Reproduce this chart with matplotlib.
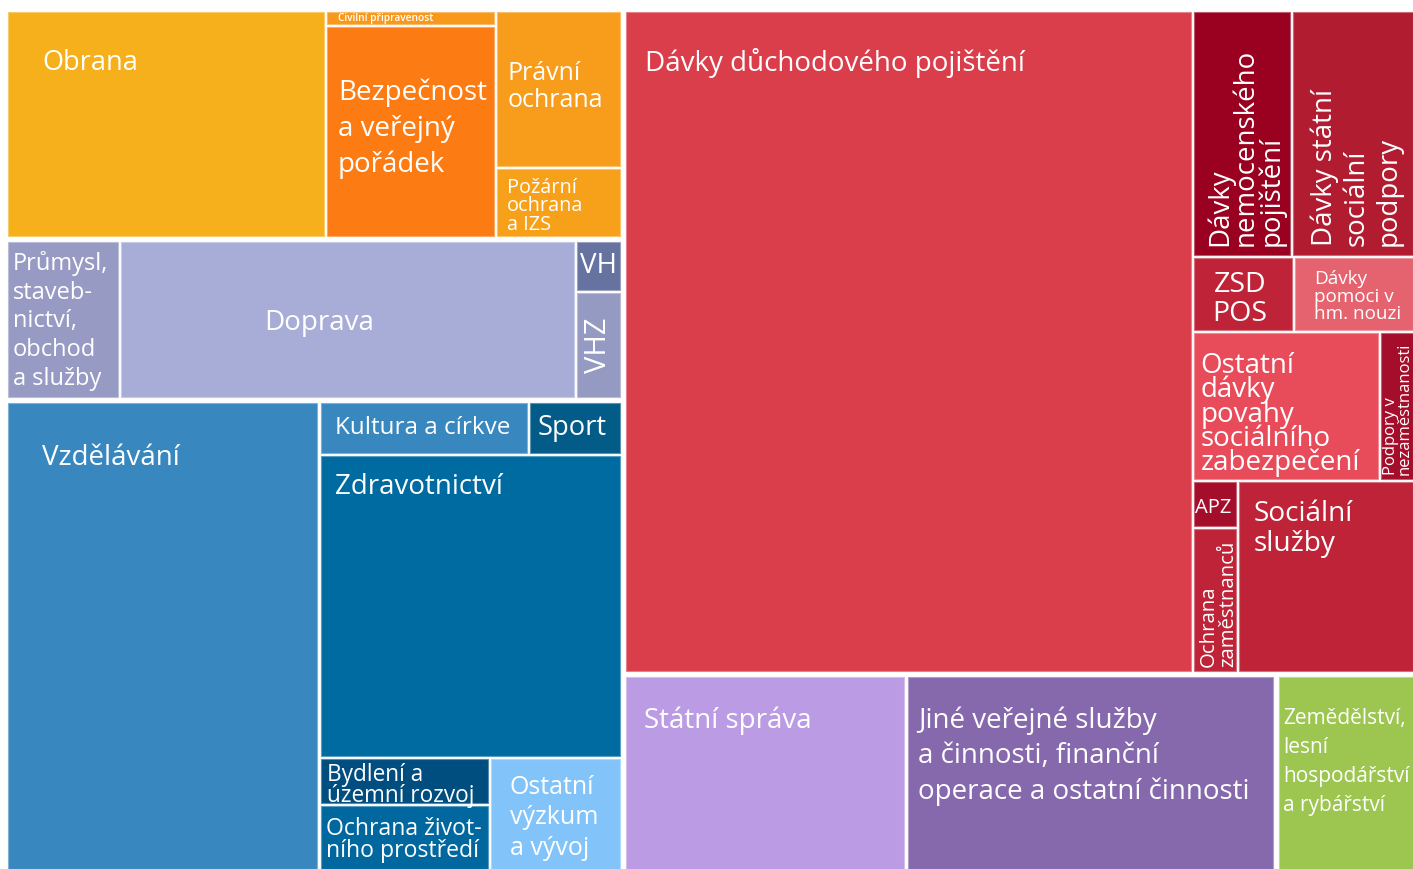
import matplotlib
matplotlib.use('Agg')
import matplotlib.pyplot as plt
from matplotlib.patches import Rectangle
import matplotlib.colors as mcolors

# ---------------- data (estimated expenditure, bn CZK) ----------------
keys = ['obrana', 'civil', 'bezp', 'pravni', 'pozarni',
        'prumysl', 'doprava', 'vh', 'vhz',
        'vzdel', 'kultura', 'sport', 'zdrav', 'bydleni', 'ozp', 'vyzkum',
        'duchody', 'nemoc', 'ssp', 'zsd', 'hn', 'ostdavky', 'nezam', 'apz', 'ochzam', 'socsluz',
        'statspr', 'jine', 'zemed']
labels = ['Obrana', 'Civilní připravenost', 'Bezpečnost\na veřejný\npořádek', 'Právní\nochrana',
          'Požární\nochrana\na IZS',
          'Průmysl,\nstaveb-\nnictví,\nobchod\na služby', 'Doprava', 'VH', 'VHZ',
          'Vzdělávání', 'Kultura a církve', 'Sport', 'Zdravotnictví', 'Bydlení a\núzemní rozvoj',
          'Ochrana život-\nního prostředí', 'Ostatní\nvýzkum\na vývoj',
          'Dávky důchodového pojištění', 'Dávky\nnemocenského\npojištění', 'Dávky státní\nsociální\npodpory',
          'ZSD\nPOS', 'Dávky\npomoci v\nhm. nouzi', 'Ostatní\ndávky\npovahy\nsociálního\nzabezpečení',
          'Podpory v\nnezaměstnanosti', 'APZ', 'Ochrana\nzaměstnanců', 'Sociální\nslužby',
          'Státní správa', 'Jiné veřejné služby\na činnosti, finanční\noperace a ostatní činnosti',
          'Zemědělství,\nlesní\nhospodářství\na rybářství']
values = [87.0, 2.9, 43.7, 23.7, 10.5,
          21.8, 89.0, 2.8, 5.9,
          176.1, 13.0, 5.7, 111.3, 9.5, 13.6, 17.9,
          452.6, 29.3, 36.2, 9.2, 11.0, 33.7, 6.0, 2.45, 7.7, 40.95,
          66.2, 87.0, 32.2]
colors = ['#F6B01B', '#F8991C', '#FC7B12', '#F89C1C', '#F7A11B',
          '#979BC3', '#A8ADD8', '#6673A1', '#959AC2',
          '#3888BF', '#3888BF', '#035B87', '#006BA1', '#004D7F', '#00689F', '#82C4FA',
          '#DA3E4B', '#9A001F', '#B21C31', '#BE2338', '#E5626F', '#E84C5B', '#A50E2A', '#A50E2A',
          '#BE2338', '#BE2338',
          '#BB9BE4', '#8668AD', '#9CC650']

val = dict(zip(keys, values))
lab = dict(zip(keys, labels))
col = dict(zip(keys, colors))

# ---------------- layout structure (split direction, children, gap px) ----------------
tree = ('h', [
    ('v', [
        ('h', ['obrana', ('v', ['civil', 'bezp'], 3), ('v', ['pravni', 'pozarni'], 3)], 3),
        ('h', ['prumysl', 'doprava', ('v', ['vh', 'vhz'], 3)], 3),
        ('h', ['vzdel', ('v', [('h', ['kultura', 'sport'], 3), 'zdrav',
                               ('h', [('v', ['bydleni', 'ozp'], 3), 'vyzkum'], 3)], 3)], 4),
    ], 6),
    ('v', [
        ('h', ['duchody', ('v', [('h', ['nemoc', 'ssp'], 3), ('h', ['zsd', 'hn'], 3),
                                 ('h', ['ostdavky', 'nezam'], 3),
                                 ('h', [('v', ['apz', 'ochzam'], 3), 'socsluz'], 3)], 3)], 3),
        ('h', [('h', ['statspr', 'jine'], 4), 'zemed'], 6),
    ], 6),
], 6)


def total(node):
    if isinstance(node, str):
        return val[node]
    return sum(total(c) for c in node[1])


def layout(node, x0, y0, x1, y1, out):
    if isinstance(node, str):
        out[node] = (x0, y0, x1, y1)
        return
    d, children, gap = node
    tot = total(node)
    length = (x1 - x0) if d == 'h' else (y1 - y0)
    pos = x0 if d == 'h' else y0
    n = len(children)
    for i, c in enumerate(children):
        seg = length * total(c) / tot
        a, b = pos, pos + seg
        pos = b
        a2 = a + (gap / 2 if i > 0 else 0)
        b2 = b - (gap / 2 if i < n - 1 else 0)
        if d == 'h':
            layout(c, a2, y0, b2, y1, out)
        else:
            layout(c, x0, a2, x1, b2, out)


W, H = 1413, 869
rects = {}
layout(tree, 8, 12, W, H, rects)

# ---------------- label styling ----------------
# mode: 'tl' (top-left, dx, dy), 'cl' (left, vertically centred, dy shift), 'c' (centre, dx/dy shift),
#       'crot' (centre, rotated), 'rot' (rotated 90, anchored bottom-left with dx, dy from bottom)
style = {
    'obrana':   ('tl', 34, 37, 19.5, 1.2, 'normal'),
    'civil':    ('tl', 11, 0.5, 7.3, 1.0, 'semibold'),
    'bezp':     ('tl', 11, 51, 20, 1.37, 'normal'),
    'pravni':   ('tl', 11, 49, 18, 1.08, 'normal'),
    'pozarni':  ('tl', 10, 9, 14.3, 0.93, 'normal'),
    'prumysl':  ('tl', 5, 9, 17, 1.27, 'normal'),
    'doprava':  ('cl', 143, 4, 20, 1.0, 'normal'),
    'vh':       ('c', 0, 0, 20, 1.0, 'normal'),
    'vhz':      ('crot', 0, 0, 21, 1.0, 'normal'),
    'vzdel':    ('tl', 34, 41, 20, 1.0, 'normal'),
    'kultura':  ('cl', 14, 0, 17.5, 1.0, 'normal'),
    'sport':    ('cl', 7, 0, 19.7, 1.0, 'normal'),
    'zdrav':    ('tl', 14, 17.5, 20, 1.0, 'normal'),
    'bydleni':  ('tl', 6, 4.5, 16.3, 0.82, 'normal'),
    'ozp':      ('tl', 5, 11, 16.6, 0.92, 'normal'),
    'vyzkum':   ('tl', 19, 16, 18, 1.29, 'normal'),
    'duchody':  ('tl', 19, 36, 20, 1.0, 'normal'),
    'nemoc':    ('rot', 12, 9, 19.9, 0.87, 'normal'),
    'ssp':      ('rot', 17, 9, 19.9, 1.19, 'normal'),
    'zsd':      ('c', -3, 5, 20.5, 1.06, 'normal'),
    'hn':       ('tl', 19, 12, 13.6, 0.98, 'normal'),
    'ostdavky': ('tl', 7, 18.5, 20, 0.815, 'normal'),
    'nezam':    ('rot', 2, 4, 12, 0.78, 'normal'),
    'apz':      ('c', -2, 4, 14.5, 1.0, 'normal'),
    'ochzam':   ('rot', 5, 4, 14.7, 0.94, 'normal'),
    'socsluz':  ('tl', 15, 18.5, 20.2, 1.1, 'normal'),
    'statspr':  ('tl', 18, 30, 20, 1.0, 'normal'),
    'jine':     ('tl', 10, 29.5, 20, 1.34, 'normal'),
    'zemed':    ('tl', 4, 31, 15, 1.50, 'normal'),
}

plt.rcParams['font.family'] = ['Open Sans', 'DejaVu Sans']

fig = plt.figure(figsize=(W / 100, H / 100), dpi=100)
ax = fig.add_axes([0, 0, 1, 1])
ax.set_xlim(0, W)
ax.set_ylim(H, 0)
ax.axis('off')


def lighten(c, f):
    r, g, b = mcolors.to_rgb(c)
    return (r + (1 - r) * f, g + (1 - g) * f, b + (1 - b) * f)


for k in keys:
    x0, y0, x1, y1 = rects[k]
    ax.add_patch(Rectangle((x0, y0), x1 - x0, y1 - y0, facecolor=col[k],
                           edgecolor=lighten(col[k], 0.35), linewidth=0.8))
    mode, dx, dy, fs, ls, fw = style[k]
    kw = dict(color='white', fontsize=fs, linespacing=ls, multialignment='left', fontweight=fw)
    if mode == 'tl':
        ax.text(x0 + dx, y0 + dy, lab[k], ha='left', va='top', **kw)
    elif mode == 'cl':
        ax.text(x0 + dx, (y0 + y1) / 2 + dy, lab[k], ha='left', va='center', **kw)
    elif mode == 'c':
        kw['multialignment'] = 'center'
        ax.text((x0 + x1) / 2 + dx, (y0 + y1) / 2 + dy, lab[k], ha='center', va='center', **kw)
    elif mode == 'crot':
        ax.text((x0 + x1) / 2, (y0 + y1) / 2, lab[k], ha='center', va='center', rotation=90, **kw)
    elif mode == 'rot':
        ax.text(x0 + dx, y1 - dy, lab[k], ha='left', va='top', rotation=90,
                rotation_mode='anchor', **kw)

fig.savefig('out.png', dpi=100)
